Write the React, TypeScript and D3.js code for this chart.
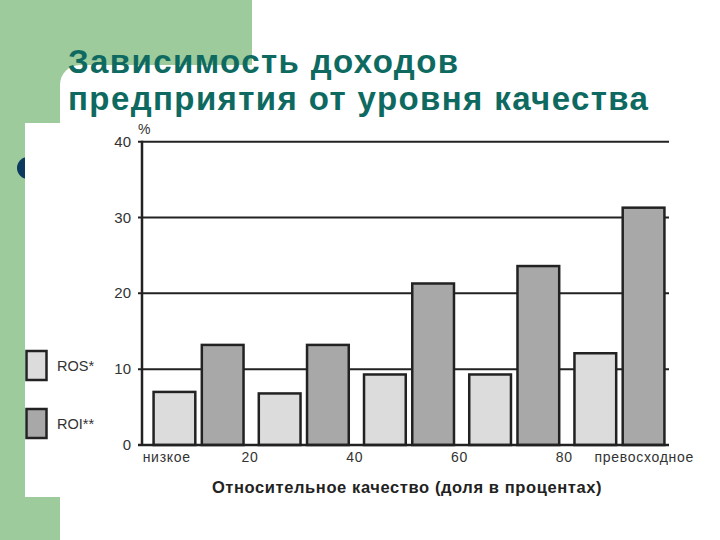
import { useEffect, useRef } from 'react';
import * as d3 from 'd3';

// quality quintiles (groups of bars)
const groups = ['0-20', '20-40', '40-60', '60-80', '80-100'];
const series = ['ROS', 'ROI'];
const rosValues = [7, 6.8, 9.3, 9.3, 12.1];
const roiValues = [13.2, 13.2, 21.3, 23.6, 31.3];
const yTicks = [0, 10, 20, 30, 40];
const xTicks = [0, 20, 40, 60, 80, 100];
const xTickLabels = ['низкое', '20', '40', '60', '80', 'превосходное'];
const legendLabels = ['ROS*', 'ROI**'];

const WIDTH = 720;
const HEIGHT = 540;
const FONT = '"Liberation Sans", Arial, sans-serif';
const GREEN = '#9ecb9b';
const TEAL = '#0e6a61';
const INK = '#222';
const fills: Record<string, string> = { ROS: '#dcdcdc', ROI: '#a8a8a8' };

const App = () => {
  const svgRef = useRef<SVGSVGElement>(null);

  useEffect(() => {
    if (!svgRef.current) return;
    const svg = d3.select(svgRef.current);
    svg.selectAll('*').remove();

    // slide background
    svg.append('rect').attr('width', WIDTH).attr('height', HEIGHT).attr('fill', '#fff');
    svg.append('rect').attr('x', 0).attr('y', 0).attr('width', 252).attr('height', HEIGHT).attr('fill', GREEN);
    svg.append('rect').attr('x', 60).attr('y', 65).attr('width', 720).attr('height', 600)
      .attr('rx', 20).attr('fill', '#fff');
    svg.append('circle').attr('cx', 28).attr('cy', 168).attr('r', 11).attr('fill', '#0b3a5e');
    svg.append('rect').attr('x', 25).attr('y', 123).attr('width', 700).attr('height', 374).attr('fill', '#fff');

    // title
    const title = svg.append('text')
      .attr('font-family', FONT)
      .attr('font-weight', 'bold')
      .attr('font-size', 33)
      .attr('letter-spacing', 1.4)
      .attr('fill', TEAL);
    title.append('tspan').attr('x', 68).attr('y', 73).text('Зависимость доходов');
    title.append('tspan').attr('x', 68).attr('y', 110).text('предприятия от уровня качества');

    // scales
    const y = d3.scaleLinear().domain([0, 40]).range([445, 141.7]);
    const x0 = d3.scaleBand<string>().domain(groups).range([142, 676])
      .paddingInner(0.145).paddingOuter(0.11);
    const x1 = d3.scaleBand<string>().domain(series).range([0, x0.bandwidth()]).paddingInner(0.135);
    const xq = d3.scaleLinear().domain([0, 100]).range([145.2, 669]);

    const axisLeft = 142;
    const axisRight = 669;

    const g = svg.append('g');

    // gridlines
    g.selectAll('.grid')
      .data(yTicks.filter(d => d > 0))
      .join('line')
      .attr('x1', axisLeft - 4)
      .attr('x2', axisRight)
      .attr('y1', d => y(d))
      .attr('y2', d => y(d))
      .attr('stroke', INK)
      .attr('stroke-width', 2);

    // bars
    const rows = groups.map((grp, i) => ({ grp, ROS: rosValues[i], ROI: roiValues[i] }));
    rows.forEach(row => {
      series.forEach(s => {
        const v = (row as any)[s] as number;
        g.append('rect')
          .attr('x', (x0(row.grp) || 0) + (x1(s) || 0))
          .attr('y', y(v))
          .attr('width', x1.bandwidth())
          .attr('height', y(0) - y(v))
          .attr('fill', fills[s])
          .attr('stroke', INK)
          .attr('stroke-width', 2.5);
      });
    });

    // axes lines
    g.append('line').attr('x1', axisLeft).attr('x2', axisLeft)
      .attr('y1', y(40) - 1).attr('y2', y(0) + 1)
      .attr('stroke', INK).attr('stroke-width', 2.5);
    g.append('line').attr('x1', axisLeft - 4).attr('x2', axisRight)
      .attr('y1', y(0)).attr('y2', y(0))
      .attr('stroke', INK).attr('stroke-width', 2.5);

    // y tick labels
    g.selectAll('.ylab')
      .data(yTicks)
      .join('text')
      .attr('x', 131)
      .attr('y', d => y(d) + 5)
      .attr('text-anchor', 'end')
      .attr('font-family', FONT)
      .attr('font-size', 15)
      .attr('fill', '#333')
      .text(d => d);

    g.append('text')
      .attr('x', 138).attr('y', 134)
      .attr('font-family', FONT).attr('font-size', 14).attr('fill', '#333')
      .text('%');

    // x tick labels
    g.selectAll('.xlab')
      .data(xTicks)
      .join('text')
      .attr('x', (d, i) => xq(d) + (i === 0 ? -2.5 : i === xTicks.length - 1 ? 25 : 0))
      .attr('y', 462)
      .attr('text-anchor', (d, i) => (i === 0 ? 'start' : i === xTicks.length - 1 ? 'end' : 'middle'))
      .attr('font-family', FONT)
      .attr('font-size', 14)
      .attr('letter-spacing', 0.7)
      .attr('fill', '#333')
      .text((d, i) => xTickLabels[i]);

    // x axis title
    g.append('text')
      .attr('x', 407).attr('y', 493)
      .attr('text-anchor', 'middle')
      .attr('font-family', FONT)
      .attr('font-weight', 'bold')
      .attr('font-size', 16.5)
      .attr('letter-spacing', 0.6)
      .attr('fill', '#222')
      .text('Относительное качество (доля в процентах)');

    // legend
    const legend = svg.append('g');
    series.forEach((s, i) => {
      const top = 351 + i * 58;
      legend.append('rect')
        .attr('x', 26.5).attr('y', top).attr('width', 20).attr('height', 29)
        .attr('fill', fills[s]).attr('stroke', INK).attr('stroke-width', 2.5);
      legend.append('text')
        .attr('x', 57).attr('y', top + 20)
        .attr('font-family', FONT).attr('font-size', 14.5).attr('fill', '#333')
        .text(legendLabels[i]);
    });
  }, []);

  return (
    <div style={{ position: 'fixed', left: 0, top: 0, width: WIDTH, height: HEIGHT }}>
      <svg ref={svgRef} width={WIDTH} height={HEIGHT} style={{ display: 'block' }} />
    </div>
  );
};

export default App;
